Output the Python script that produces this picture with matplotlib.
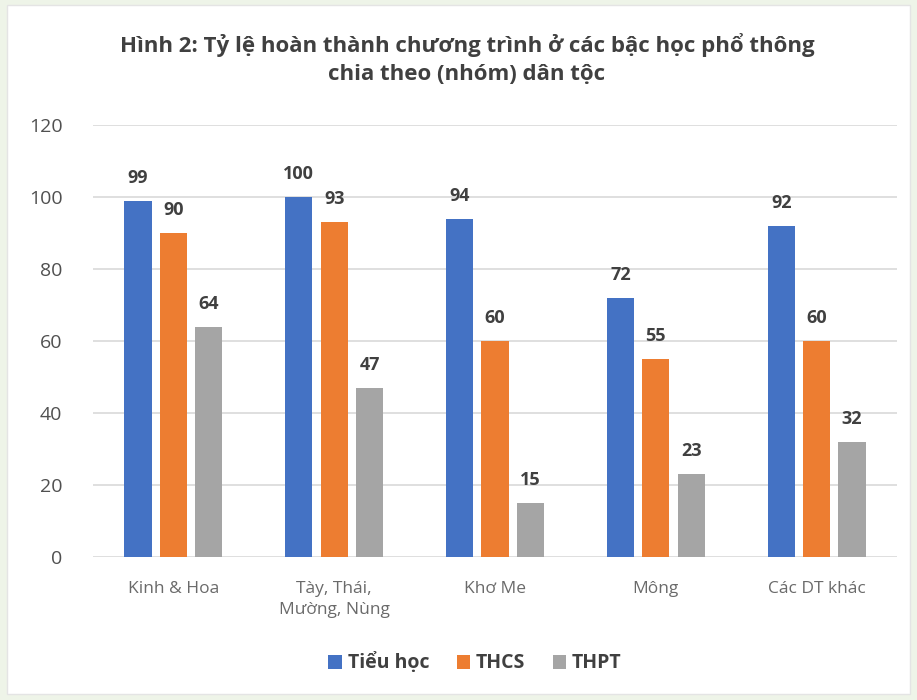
import numpy as np
import matplotlib.pyplot as plt
from matplotlib.patches import Rectangle, Patch

groups = ["Kinh & Hoa", "Tày, Thái,\nMường, Nùng", "Khơ Me", "Mông", "Các DT khác"]
tieu_hoc = [99, 100, 94, 72, 92]
thcs = [90, 93, 60, 55, 60]
thpt = [64, 47, 15, 23, 32]
series_names = ["Tiểu học", "THCS", "THPT"]
colors = ["#4472C4", "#ED7D31", "#A5A5A5"]

plt.rcParams['font.family'] = ['Open Sans', 'DejaVu Sans']

fig = plt.figure(figsize=(9.17, 7.0), dpi=100, facecolor='#EEF4E8')
# white card behind the chart
fig.patches.append(Rectangle((7/917, 6/700), 903/917, 689/700, transform=fig.transFigure,
                             facecolor='white', edgecolor='#E4E4E4', lw=1, zorder=-5))

ax = fig.add_axes([93/917, 143/700, 804/917, 432/700])
ax.set_facecolor('none')

x = np.arange(len(groups))
w = 0.17
offsets = [-0.22, 0.0, 0.22]
for vals, off, c in zip([tieu_hoc, thcs, thpt], offsets, colors):
    bars = ax.bar(x + off, vals, width=w, color=c, zorder=3)
    for b, v in zip(bars, vals):
        ax.annotate(str(v), (b.get_x() + b.get_width()/2, v), xytext=(0, 10),
                    textcoords='offset points', ha='center', va='bottom',
                    fontsize=13, fontweight='bold', color='#404040')

ax.set_xlim(-0.5, len(groups) - 0.5)
ax.set_ylim(0, 120)
ax.set_yticks(range(0, 121, 20))
ax.grid(axis='y', color='#D9D9D9', lw=1.2, zorder=0)
for s in ax.spines.values():
    s.set_visible(False)
ax.tick_params(length=0)
ax.tick_params(axis='y', pad=22, labelsize=14, labelcolor='#505050')
ax.set_xticks(x)
ax.set_xticklabels(groups, fontsize=12.5, color='#6A6A6A', linespacing=1.45)
ax.tick_params(axis='x', pad=17)

fig.text(467/917, 1 - 45/700, "Hình 2: Tỷ lệ hoàn thành chương trình ở các bậc học phổ thông",
         ha='center', va='center', fontsize=16, fontweight='bold', color='#404040')
fig.text(467/917, 1 - 75/700, "chia theo (nhóm) dân tộc",
         ha='center', va='center', fontsize=16, fontweight='bold', color='#404040')

handles = [Patch(facecolor=c) for c in colors]
fig.legend(handles, series_names, loc='center', bbox_to_anchor=(475/917, 1 - 663/700),
           ncol=3, frameon=False, handlelength=0.7, handleheight=0.7, handletextpad=0.3,
           columnspacing=1.4, prop={'size': 14, 'weight': 'bold'}, labelcolor='#404040')

fig.savefig('out.png', dpi=100, facecolor=fig.get_facecolor())
